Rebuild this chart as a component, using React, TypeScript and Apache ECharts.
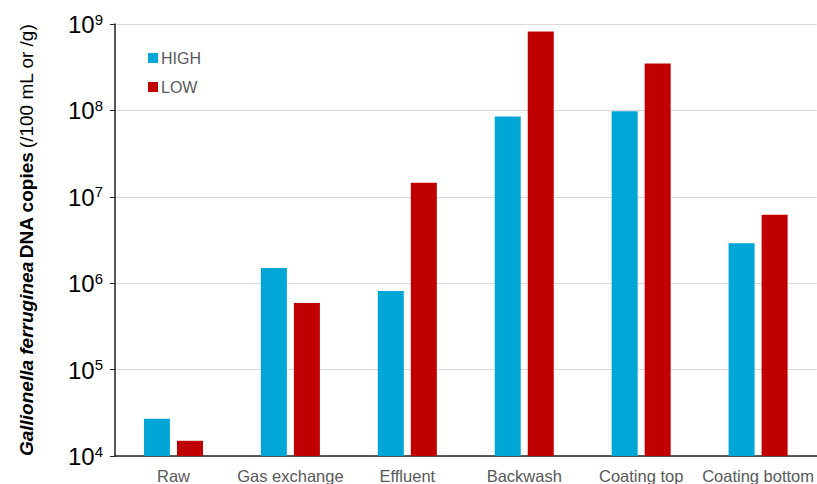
import React, { useEffect, useRef } from "react";
import * as echarts from "echarts";

const categories = ["Raw", "Gas exchange", "Effluent", "Backwash", "Coating top", "Coating bottom"];
const highValues = [2.7e4, 1.5e6, 8.1e5, 8.5e7, 9.8e7, 2.9e6];
const lowValues = [1.5e4, 5.9e5, 1.45e7, 8.2e8, 3.5e8, 6.2e6];
const seriesNames = ["HIGH", "LOW"];

const FONT = "Liberation Sans, Arial, sans-serif";

export default function App() {
  const ref = useRef<HTMLDivElement>(null);
  useEffect(() => {
    const chart = echarts.init(ref.current!, null, { renderer: "svg" });
    chart.setOption({
      animation: false,
      backgroundColor: "#ffffff",
      grid: { left: 115, right: 0, top: 24, bottom: 27, containLabel: false },
      legend: {
        data: seriesNames,
        orient: "vertical",
        left: 143,
        top: 45,
        itemWidth: 10,
        itemHeight: 10,
        itemGap: 13,
        icon: "rect",
        textStyle: { color: "#595959", fontSize: 16, fontFamily: FONT, padding: [0, 0, 0, -2] },
      },
      xAxis: {
        type: "category",
        data: categories,
        axisLine: { lineStyle: { color: "#222", width: 1.5 } },
        axisTick: { show: false },
        axisLabel: {
          color: "#595959",
          fontSize: 16.5,
          margin: 11,
          fontFamily: FONT,
          interval: 0,
        },
      },
      yAxis: {
        type: "log",
        logBase: 10,
        min: 1e4,
        max: 1e9,
        name: "{i|Gallionella ferruginea} {b|DNA copies} {n|(/100 mL or /g)}",
        nameLocation: "middle",
        nameGap: 79,
        nameRotate: 90,
        nameTextStyle: {
          rich: {
            i: { fontSize: 19, fontStyle: "italic", fontWeight: "bold", color: "#000", fontFamily: FONT },
            b: { fontSize: 19, fontWeight: "bold", color: "#000", fontFamily: FONT },
            n: { fontSize: 19, color: "#000", fontFamily: FONT },
          },
        },
        axisLine: { show: true, lineStyle: { color: "#222", width: 1.5 } },
        axisTick: { show: true, length: 5, lineStyle: { color: "#222" } },
        splitLine: { show: true, lineStyle: { color: "#d9d9d9", width: 1 } },
        axisLabel: {
          margin: 12,
          formatter: (v: number) => "{b|10}{s|" + Math.round(Math.log10(v)) + "}",
          rich: {
            b: { fontSize: 24, color: "#000", fontFamily: FONT, verticalAlign: "bottom" },
            s: { fontSize: 15, color: "#000", fontFamily: FONT, verticalAlign: "top", padding: [0, 0, 10, 0] },
          },
        },
      },
      series: [
        {
          name: seriesNames[0],
          type: "bar",
          data: highValues,
          barWidth: 26,
          barGap: "27%",
          itemStyle: { color: "#00A6D6" },
        },
        {
          name: seriesNames[1],
          type: "bar",
          data: lowValues,
          barWidth: 26,
          barGap: "27%",
          itemStyle: { color: "#C00000" },
        },
      ],
    });
    return () => chart.dispose();
  }, []);
  return <div ref={ref} style={{ position: "fixed", left: 0, top: 0, width: 817, height: 484 }} />;
}
